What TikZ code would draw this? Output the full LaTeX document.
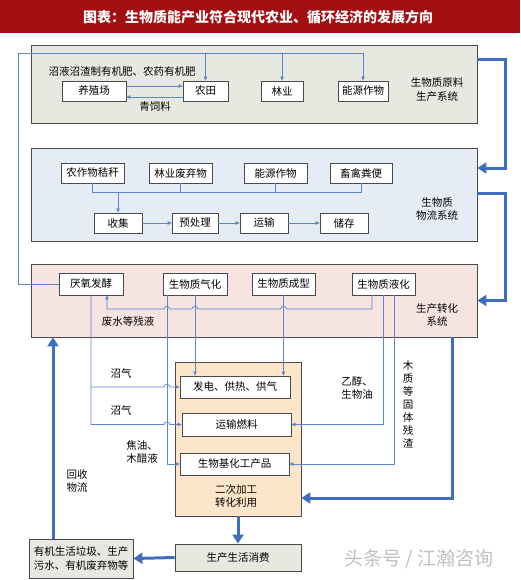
\documentclass[tikz,border=0pt]{standalone}
\usepackage{fontspec}
\newfontfamily\cjk{Noto Sans CJK SC}
\usetikzlibrary{arrows.meta}
\definecolor{titlered}{HTML}{A20E12}
\definecolor{sysA}{HTML}{E7E8DF}
\definecolor{sysB}{HTML}{E6ECF5}
\definecolor{sysC}{HTML}{F6E4E1}
\definecolor{sysD}{HTML}{FCE5C8}
\definecolor{thinblue}{HTML}{5B86C8}
\definecolor{thickblue}{HTML}{3E6FBF}
\definecolor{edge}{HTML}{4A4A4A}
\definecolor{wmark}{HTML}{C0C0C0}
\tikzset{
  sysbox/.style={draw=edge, line width=0.8pt, inner sep=0pt},
  bx/.style={draw=edge, line width=0.7pt, fill=white, inner sep=0pt},
  thinln/.style={draw=thinblue, line width=0.7pt},
  thinarr/.style={thinln, -{Triangle[length=4pt,width=3.5pt]}},
  thickarr/.style={draw=thickblue, line width=3pt, -{Triangle[length=9pt,width=11pt]}},
  lbl/.style={align=center, inner sep=0pt, font=\cjk\fontsize{10.5}{13.5}\selectfont},
}
\begin{document}
\begin{tikzpicture}[x=1pt,y=-1pt, font=\cjk\fontsize{10.5}{12}\selectfont]
\useasboundingbox (0,0) rectangle (520,580);
\fill[white] (0,0) rectangle (520,580);
% title
\fill[titlered] (0,0) rectangle (520,33);
\node[text=white, font=\cjk\bfseries\fontsize{14}{16}\selectfont] (title) at (258,17) {图表：生物质能产业符合现代农业、循环经济的发展方向};

% system boxes
\node[sysbox, fill=sysA, minimum width=446pt, minimum height=78pt] (S1) at (254,84) {};
\node[sysbox, fill=sysB, minimum width=446pt, minimum height=93pt] (S2) at (254,194.5) {};
\node[sysbox, fill=sysC, minimum width=446pt, minimum height=73pt] (S3) at (254,300.5) {};
\node[sysbox, fill=sysD, minimum width=126pt, minimum height=154pt] (S4) at (238,439) {};
\node[sysbox, fill=sysA, minimum width=126pt, minimum height=27pt] (cons) at (238,557.5) {生产生活消费};
\node[sysbox, fill=sysA, minimum width=104pt, minimum height=39pt, align=center, font=\cjk\fontsize{10.5}{14}\selectfont] (waste) at (81,558.5) {有机生活垃圾、生产\\污水、有机废弃物等};

% system labels
\node[lbl] (L1) at (437,89.5) {生物质原料\\生产系统};
\node[lbl] (L2) at (437,209) {生物质\\物流系统};
\node[lbl] (L3) at (437,315) {生产转化\\系统};
\node[lbl] (L4) at (236,496) {二次加工\\转化利用};

% row 1
\node[bx, minimum width=64pt, minimum height=20pt] (yzc) at (94,91) {养殖场};
\node[bx, minimum width=45pt, minimum height=20pt] (nt) at (205.5,91) {农田};
\node[bx, minimum width=42pt, minimum height=20pt] (ly) at (282,91) {林业};
\node[bx, minimum width=50pt, minimum height=20pt] (ny1) at (363,91) {能源作物};
% row 2
\node[bx, minimum width=63pt, minimum height=20pt] (jg) at (92.5,173) {农作物秸秆};
\node[bx, minimum width=63pt, minimum height=20pt] (lyfq) at (180.5,173) {林业废弃物};
\node[bx, minimum width=63pt, minimum height=20pt] (ny2) at (275.5,173) {能源作物};
\node[bx, minimum width=62pt, minimum height=20pt] (xq) at (361,173) {畜禽粪便};
% row 3
\node[bx, minimum width=48pt, minimum height=20pt] (sj) at (118,223) {收集};
\node[bx, minimum width=46pt, minimum height=20pt] (ycl) at (195,223) {预处理};
\node[bx, minimum width=48pt, minimum height=20pt] (ys) at (264,223) {运输};
\node[bx, minimum width=48pt, minimum height=20pt] (cc) at (344,223) {储存};
% row 4
\node[bx, minimum width=64pt, minimum height=22pt] (yy) at (91,284) {厌氧发酵};
\node[bx, minimum width=64pt, minimum height=22pt] (qh) at (195,284) {生物质气化};
\node[bx, minimum width=63pt, minimum height=22pt] (cx) at (283.5,284) {生物质成型};
\node[bx, minimum width=63pt, minimum height=22pt] (yh) at (383.5,284) {生物质液化};
% secondary
\node[bx, minimum width=110pt, minimum height=22pt] (fd) at (235,387) {发电、供热、供气};
\node[bx, minimum width=109pt, minimum height=23pt] (ysrl) at (236.5,424.5) {运输燃料};
\node[bx, minimum width=109pt, minimum height=22pt] (hg) at (234.5,464) {生物基化工产品};

% ---- thin connectors
\coordinate (tl) at (18,53);
\draw[thinarr] (yy.west) -| (tl) -| (ny1.north);
\draw[thinarr] (nt.north |- tl) -- (nt.north);
\draw[thinarr] (ly.north |- tl) -- (ly.north);
\draw[thinarr] ([yshift=5pt]yzc.east) -- ([yshift=5pt]nt.west);
\draw[thinarr] ([yshift=-6pt]nt.west) -- ([yshift=-6pt]yzc.east);
\node[lbl] (tx1) at (122,72) {沼液沼渣制有机肥、农药有机肥};
\node[lbl] (tx2) at (155,107) {青饲料};

\coordinate (bus) at (0,192);
\draw[thinln] (jg.south) -- (jg.south |- bus) -- (xq.south |- bus) -- (xq.south);
\draw[thinln] (lyfq.south) -- (lyfq.south |- bus);
\draw[thinln] (ny2.south) -- (ny2.south |- bus);
\draw[thinarr] (sj.north |- bus) -- (sj.north);
\draw[thinarr] (sj) -- (ycl);
\draw[thinarr] (ycl) -- (ys);
\draw[thinarr] (ys) -- (cc);

% waste liquid line with hops
\coordinate (w1) at (372,309);
\coordinate (w2) at (107,309);
\draw[thinarr] (yh.south -| w1) -- (w1) -- (286.5,309) .. controls (286.5,305.5) and (280.5,305.5) .. (280.5,309)
  -- (198,309) .. controls (198,305.5) and (192,305.5) .. (192,309)
  -- (170,309) .. controls (170,305.5) and (164,305.5) .. (164,309)
  -- (w2) -- (w2 |- yy.south);
\node[lbl] (tx3) at (128,322) {废水等残液};

% biogas
\draw[thinarr] (yy.south) -- (yy.south |- ysrl.west) -- (164,424.5) .. controls (164,421) and (170,421) .. (170,424.5) -- (ysrl.west);
\draw[thinarr] (yy.south |- fd.west) -- (164,387) .. controls (164,383.5) and (170,383.5) .. (170,387) -- (fd.west);
\node[lbl] (tx4) at (121,373) {沼气};
\node[lbl] (tx5) at (121,410) {沼气};
% gasification
\draw[thinarr] ([xshift=-28pt]qh.south) |- (hg.west);
\draw[thinarr] (qh.south) -- (qh.south |- fd.north);
\node[lbl] (tx6) at (142,452) {焦油、\\木醋液};
% forming
\draw[thinarr] (cx.south) -- (cx.south |- fd.north);
% liquefaction
\draw[thinarr] (yh.south) |- (ysrl.east);
\draw[thinarr] ([xshift=10.5pt]yh.south) |- (hg.east);
\node[lbl] (tx7) at (357,388) {乙醇、\\生物油};
\node[lbl, font=\cjk\fontsize{10.5}{13}\selectfont] (tx8) at (408,404) {木\\质\\等\\固\\体\\残\\渣};

% ---- thick connectors
\coordinate (r1) at (505,60);
\coordinate (r2) at (505,168);
\coordinate (r3) at (505,193);
\coordinate (r4) at (505,300.5);
\draw[thickarr] (S1.east |- r1) -- (r1) -- (r2) -- (S2.east |- r2);
\draw[thickarr] (S2.east |- r3) -- (r3) -- (r4) -- (S3.east);
\coordinate (r5) at (452,498);
\draw[thickarr] (S3.south -| r5) -- (r5) -- (S4.east |- r5);
\draw[thickarr] (S4.south) -- (cons.north);
\draw[thickarr] (cons.west) -- (waste.east);
\draw[thickarr] (waste.north -| 53,0) -- (S3.south -| 53,0);
\node[lbl] (tx9) at (77,481) {回收\\物流};

% watermark
\node[text=wmark, font=\cjk\fontsize{19}{21}\selectfont] (wm) at (419,559) {头条号 / 江瀚咨询};
\end{tikzpicture}
\end{document}
